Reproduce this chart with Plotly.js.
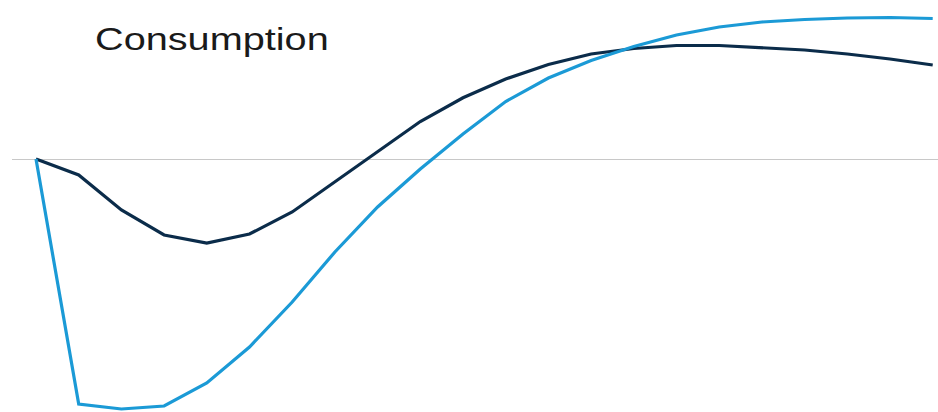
<!DOCTYPE html>
<html>
<head>
<meta charset="utf-8">
<script src="https://cdn.plot.ly/plotly-3.0.1.min.js"></script>
<style>
html,body{margin:0;padding:0;background:#fff;}
#chart{width:938px;height:412px;}
.annotation-text{transform-box:fill-box;transform-origin:left center;transform:scaleX(1.24);}
</style>
</head>
<body>
<div id="chart"></div>
<script>
// Period index (quarters after the shock)
const periods = [0,1,2,3,4,5,6,7,8,9,10,11,12,13,14,15,16,17,18,19,20,21];
// Series values (deviation from baseline)
const seriesDark = [0,-0.64,-2.04,-3.04,-3.36,-3.0,-2.12,-0.92,0.3,1.5,2.45,3.2,3.78,4.2,4.42,4.54,4.54,4.46,4.36,4.2,4.0,3.76];
const seriesLight = [0,-9.8,-10.0,-9.88,-8.96,-7.52,-5.72,-3.72,-1.92,-0.4,1.0,2.3,3.24,3.94,4.5,4.96,5.28,5.48,5.58,5.64,5.66,5.62];
const chartTitle = "Consumption";

const traces = [
  {x: periods, y: seriesDark, type: 'scatter', mode: 'lines', name: 'Series A',
   line: {color: '#0b2c4a', width: 3.2}, hoverinfo: 'skip'},
  {x: periods, y: seriesLight, type: 'scatter', mode: 'lines', name: 'Series B',
   line: {color: '#1b9ad6', width: 3.2}, hoverinfo: 'skip'}
];

const layout = {
  width: 938, height: 412,
  margin: {l: 12, r: 0, t: 0, b: 0},
  paper_bgcolor: '#ffffff', plot_bgcolor: '#ffffff',
  showlegend: false,
  xaxis: {range: [-0.562, 21.124], showgrid: false, zeroline: false, showticklabels: false, showline: false, ticks: ''},
  yaxis: {range: [-10.12, 6.36], showgrid: false, zeroline: true, zerolinecolor: '#c8c8c8', zerolinewidth: 1, showticklabels: false, showline: false, ticks: ''},
  annotations: [{
    text: chartTitle, xref: 'paper', yref: 'paper', x: 0.0875, y: 0.905,
    xanchor: 'left', yanchor: 'middle', showarrow: false,
    font: {family: 'Liberation Sans, Arial, sans-serif', size: 32, color: '#1a1a1a'}
  }]
};

Plotly.newPlot('chart', traces, layout, {staticPlot: true, displayModeBar: false});
</script>
</body>
</html>
